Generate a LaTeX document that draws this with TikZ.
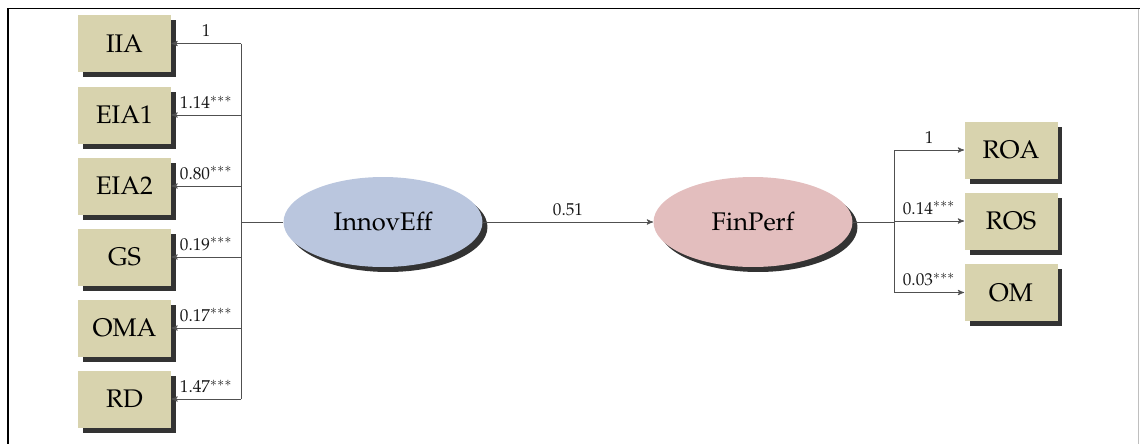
\documentclass[tikz,border=0pt]{standalone}
\usepackage[T1]{fontenc}
\usepackage{mathpazo}
\usepackage[rgb]{xcolor}
\usetikzlibrary{arrows}
\usetikzlibrary{shadows}
\usetikzlibrary{shapes.geometric}

\definecolor{boxtan}{RGB}{216,211,174}
\definecolor{innovblue}{RGB}{186,198,222}
\definecolor{finpink}{RGB}{227,190,190}
\definecolor{linegray}{RGB}{80,80,80}

\tikzset{
    dshadow/.style={drop shadow={shadow xshift=0.1cm, shadow yshift=-0.1cm, fill=black!80, opacity=1}},
    ind/.style={rectangle, fill=boxtan, minimum width=1.86cm, minimum height=1.14cm, inner sep=0pt,
        font=\fontsize{14.5}{17}\selectfont, dshadow},
    lat/.style={ellipse, minimum width=3.98cm, minimum height=1.8cm, inner sep=0pt,
        font=\fontsize{14.5}{17}\selectfont, dshadow},
    load/.style={->, >=stealth', linegray},
    coef/.style={font=\fontsize{9.8}{11}\selectfont, text=black!90, inner sep=1pt, above=2.5pt}
}

\begin{document}
\begin{tikzpicture}[x=0.02cm, y=-0.02cm]
    \useasboundingbox (0,0) rectangle (1140,444);
    % frame
    \draw [line width=1.1pt] (1140,8.5) -- (8,8.5) -- (8,444);
    \draw [black!25, line width=0.4pt] (1138.5,8.5) -- (1138.5,444);

    % latent variables
    \node [lat, fill=innovblue] (InnovEff) at (383,222) {InnovEff};
    \node [lat, fill=finpink] (FinPerf) at (753,222) {FinPerf};
    \draw [load] (InnovEff) -- node [coef] {0.51} (FinPerf);

    % innovation efficiency indicators
    \foreach \n / \y / \c in {IIA/43.5/1, EIA1/115/1.14$^{***}$, EIA2/186/0.80$^{***}$,
        GS/257/0.19$^{***}$, OMA/328/0.17$^{***}$, RD/399/1.47$^{***}$}
    {
        \node [ind] (\n) at (124.5,\y) {\n};
        \coordinate (b\n) at (241,\y);
        \draw [load] (b\n) -- node [coef] {\c} (\n);
    }
    \draw [linegray] (bIIA) -- (bRD);
    \draw [linegray] (InnovEff.west) -- (InnovEff.west -| bIIA);

    % financial performance indicators
    \foreach \n / \y / \c in {ROA/150/1, ROS/221/0.14$^{***}$, OM/292.5/0.03$^{***}$}
    {
        \node [ind] (\n) at (1011,\y) {\n};
        \coordinate (b\n) at (894,\y);
        \draw [load] (b\n) -- node [coef] {\c} (\n);
    }
    \draw [linegray] (bROA) -- (bOM);
    \draw [linegray] (FinPerf.east) -- (FinPerf.east -| bROS);
\end{tikzpicture}
\end{document}
